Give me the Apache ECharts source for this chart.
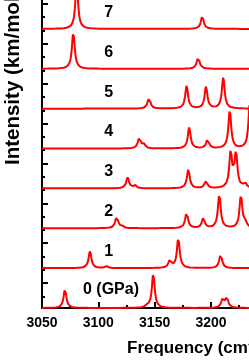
<!DOCTYPE html>
<html>
<head>
<meta charset="utf-8">
<script src="https://cdn.jsdelivr.net/npm/echarts@6/dist/echarts.min.js"></script>
<style>
html,body{margin:0;padding:0;background:#fff;}
#c{width:249px;height:360px;}
</style>
</head>
<body>
<div id="c"></div>
<script>
// Pressures (GPa) labelling each stacked spectrum
var pressures = ['0 (GPa)', '1', '2', '3', '4', '5', '6', '7'];
// Peaks: [frequency cm^-1, peak intensity]
var peaks0 = [[3070.4, 19], [3143.5, 2], [3148.8, 35], [3210.2, 8], [3214.0, 11]];
var peaks1 = [[3092.6, 17], [3107.0, 2], [3163.6, 8], [3171.0, 30], [3208.6, 14]];
var peaks2 = [[3116.3, 12], [3121.0, 2], [3178.4, 16], [3193.2, 10], [3207.4, 34], [3226.6, 33], [3230.5, 5]];
var peaks3 = [[3126.0, 11], [3132.5, 3], [3179.9, 19], [3195.6, 7], [3217.5, 36], [3222.2, 35], [3230.2, 5]];
var peaks4 = [[3136.4, 11], [3140.5, 4], [3180.7, 21], [3197.0, 9], [3216.7, 38], [3234.5, 45]];
var peaks5 = [[3145.0, 11], [3178.4, 23], [3195.6, 22], [3210.9, 31]];
var peaks6 = [[3077.8, 37], [3188.7, 12]];
var peaks7 = [[3080.8, 45], [3192.3, 13]];
var allPeaks = [peaks0, peaks1, peaks2, peaks3, peaks4, peaks5, peaks6, peaks7];
// x-axis tick labels
var xTicks = [3050, 3100, 3150, 3200, 3250];

var STEP = 40;        // vertical offset between spectra
var HWHM = 1.5;       // Lorentzian half width used to draw the peaks
var FONT = '"Liberation Sans", Arial, sans-serif';

function spectrum(peaks, offset) {
  var pts = [];
  for (var f = xTicks[0]; f <= xTicks[xTicks.length - 1] + 1e-9; f += 0.2) {
    var y = offset;
    for (var i = 0; i < peaks.length; i++) {
      var d = (f - peaks[i][0]) / HWHM;
      y += peaks[i][1] / (1 + d * d);
    }
    pts.push([f, y]);
  }
  return pts;
}

var series = allPeaks.map(function (p, k) {
  return {
    type: 'line', data: spectrum(p, k * STEP), showSymbol: false, symbol: 'none',
    lineStyle: { color: '#ff0000', width: 2 }, itemStyle: { color: '#ff0000' },
    clip: true, silent: true, z: 3
  };
});

var labelData = pressures.map(function (t, k) {
  return { value: [k === 0 ? 3086.4 : 3105.3, k * STEP + (k === 0 ? 18 : 16.5)], name: t };
});
series.push({
  type: 'scatter', data: labelData, symbolSize: 0, silent: true, z: 5,
  itemStyle: { opacity: 1, color: '#000' },
  label: {
    show: true, position: 'inside', align: 'left', verticalAlign: 'middle',
    formatter: function (p) { return p.name; },
    color: '#000', fontWeight: 'bold', fontSize: 16, fontFamily: FONT
  }
});

var majorY = [], minorY = [];
for (var k = 0; k < 8; k++) {
  majorY.push(25 + k * STEP);
  minorY.push(25 + k * STEP - 13.3);
  if (k < 7) minorY.push(25 + k * STEP + 13.3);
}

var chart = echarts.init(document.getElementById('c'), null, { renderer: 'canvas' });
chart.setOption({
  animation: false,
  backgroundColor: '#fff',
  grid: { left: 42, width: 225.3, top: 0, height: 308, containLabel: false, outerBoundsMode: 'none' },
  xAxis: {
    type: 'value', min: xTicks[0], max: xTicks[xTicks.length - 1], interval: 50,
    axisLine: { show: true, onZero: false, lineStyle: { color: '#000', width: 2 } },
    axisTick: { show: true, inside: true, length: 6, lineStyle: { color: '#000', width: 2 } },
    minorTick: { show: true, splitNumber: 2, length: 3, lineStyle: { color: '#000', width: 2 } },
    axisLabel: { color: '#000', fontWeight: 'bold', fontSize: 14, fontFamily: FONT, margin: 8,
      formatter: function (v) { return String(v); } },
    splitLine: { show: false }
  },
  yAxis: [{
    type: 'value', min: 0, max: 309,
    axisLine: { show: true, onZero: false, lineStyle: { color: '#000', width: 2 } },
    axisTick: { show: true, inside: true, length: 6, customValues: majorY, lineStyle: { color: '#000', width: 2 } },
    axisLabel: { show: false },
    splitLine: { show: false }
  }, {
    type: 'value', min: 0, max: 309, position: 'left',
    axisLine: { show: false },
    axisTick: { show: true, inside: true, length: 3, customValues: minorY, lineStyle: { color: '#000', width: 2 } },
    axisLabel: { show: false },
    splitLine: { show: false }
  }],
  series: series,
  graphic: [{
    type: 'text', x: 13.5, y: 165, rotation: Math.PI / 2,
    style: { text: 'Intensity (km/mol)', fill: '#000', font: 'bold 20.5px ' + FONT, align: 'left', verticalAlign: 'middle' }
  }, {
    type: 'text', x: 127, y: 348,
    style: {
      text: '{a|Frequency (cm}{s|-1}{a|)}', fill: '#000', align: 'left', verticalAlign: 'middle',
      rich: {
        a: { font: 'bold 17px ' + FONT, fill: '#000' },
        s: { font: 'bold 11px ' + FONT, fill: '#000', verticalAlign: 'top', padding: [0, 0, 8, 0] }
      }
    }
  }]
});
</script>
</body>
</html>
